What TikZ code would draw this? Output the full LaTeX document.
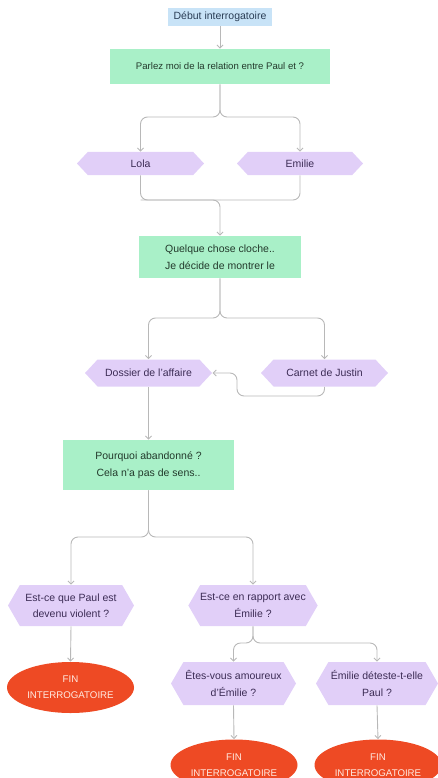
\documentclass[tikz,border=0pt]{standalone}
\usepackage{fontspec}
\setmainfont{Liberation Sans}
\usetikzlibrary{arrows.meta, shapes.geometric, shapes.symbols, positioning}
\definecolor{startblue}{HTML}{C8E3F7}
\definecolor{stepgreen}{HTML}{A9F0C8}
\definecolor{choicepurple}{HTML}{E1CFF8}
\definecolor{endred}{HTML}{EE4A24}
\definecolor{linegray}{HTML}{B8B8B8}
\definecolor{starttext}{HTML}{2A3D55}
\definecolor{steptext}{HTML}{233A2C}
\definecolor{choicetext}{HTML}{3C2C55}
\definecolor{endtext}{HTML}{FFE9E0}
\tikzset{
    %set default line width
    every picture/.style={line width=0.9pt},
    start-box/.style={
        fill=startblue,
        text=starttext,
        minimum width=104pt,
        minimum height=18pt,
        inner sep=0pt,
        font=\fontsize{10.5}{12}\selectfont,
    },
    step-box/.style={
        fill=stepgreen,
        text=steptext,
        inner sep=0pt,
        align=center,
        font=\fontsize{10.5}{16.5}\selectfont,
    },
    choice-hex/.style={
        shape=signal,
        signal to=west and east,
        signal pointer angle=94,
        fill=choicepurple,
        text=choicetext,
        inner sep=0pt,
        align=center,
        font=\fontsize{10.5}{16.5}\selectfont,
    },
    tall-hex/.style={
        choice-hex,
        signal pointer angle=120,
    },
    end-oval/.style={
        ellipse,
        fill=endred,
        text=endtext,
        minimum width=127pt,
        minimum height=51pt,
        inner sep=0pt,
        align=center,
        font=\fontsize{9.7}{16}\selectfont,
    },
    flow/.style={
        draw=linegray,
        rounded corners=7pt,
        -{Straight Barb[length=3pt,width=6pt]},
    },
    flow-line/.style={
        draw=linegray,
        rounded corners=7pt,
    },
}
\begin{document}
\begin{tikzpicture}[x=1pt,y=-1pt]
\useasboundingbox (0,0) rectangle (438,778);

% Start
\node[start-box] (debut) at (220,17) {Début interrogatoire};
% Steps
\node[step-box, minimum width=220pt, minimum height=35pt, font=\fontsize{9.6}{12}\selectfont] (parlez) at (220,66.5) {Parlez moi de la relation entre Paul et ?};
\node[step-box, minimum width=162pt, minimum height=42pt] (cloche) at (220,257) {Quelque chose cloche..\\Je décide de montrer le};
\node[step-box, minimum width=171pt, minimum height=50pt] (pourquoi) at (148.5,465) {Pourquoi abandonné ?\\Cela n'a pas de sens..};
% Choices
\node[choice-hex, minimum width=127pt, minimum height=23pt] (lola) at (140.5,163.5) {Lola};
\node[choice-hex, minimum width=126pt, minimum height=23pt] (emilie) at (300,163.5) {Emilie};
\node[choice-hex, minimum width=127pt, minimum height=27pt] (dossier) at (148.5,373) {Dossier de l'affaire};
\node[choice-hex, minimum width=127pt, minimum height=27pt] (carnet) at (324.5,373) {Carnet de Justin};
\node[tall-hex, minimum width=126pt, minimum height=41pt] (violent) at (71,605.5) {Est-ce que Paul est\\devenu violent ?};
\node[tall-hex, minimum width=126pt, minimum height=41pt] (rapport) at (253,605.5) {Est-ce en rapport avec\\Émilie ?};
\node[tall-hex, minimum width=125pt, minimum height=43pt] (amoureux) at (233.5,683.5) {Êtes-vous amoureux\\d'Émilie ?};
\node[tall-hex, minimum width=122pt, minimum height=43pt] (deteste) at (377,683.5) {Émilie déteste-t-elle\\Paul ?};
% Ends
\node[end-oval] (fin-a) at (70.5,687.5) {FIN\\INTERROGATOIRE};
\node[end-oval] (fin-b) at (234,765) {FIN\\INTERROGATOIRE};
\node[end-oval] (fin-c) at (378,765) {FIN\\INTERROGATOIRE};

% Split and merge points
\coordinate (split-a) at (220,117);
\coordinate (merge-a) at (220,200);
\coordinate (split-b) at (220,318);
\coordinate (back) at (237,396);
\coordinate (split-c) at (148.5,537);
\coordinate (split-d) at (253,643);

% Connectors
\draw[flow] (debut) -- (parlez);
\draw[flow] (parlez.south) -- (split-a) -| (lola.north);
\draw[flow] (parlez.south) -- (split-a) -| (emilie.north);
\draw[flow-line] (lola.south) |- (merge-a);
\draw[flow-line] (emilie.south) |- (merge-a);
\draw[flow] (lola.south |- merge-a) -| (cloche.north);
\draw[flow] (cloche.south) -- (split-b) -| (dossier.north);
\draw[flow] (cloche.south) -- (split-b) -| (carnet.north);
\draw[flow] (carnet.south) |- (back) |- (dossier.east);
\draw[flow] (dossier.south) -- (pourquoi.north);
\draw[flow] (pourquoi.south) -- (split-c) -| (violent.north);
\draw[flow] (pourquoi.south) -- (split-c) -| (rapport.north);
\draw[flow] (violent.south) -- (fin-a.north);
\draw[flow] (rapport.south) -- (split-d) -| (amoureux.north);
\draw[flow] (rapport.south) -- (split-d) -| (deteste.north);
\draw[flow] (amoureux.south) -- (fin-b.north);
\draw[flow] (deteste.south) -- (fin-c.north);
\end{tikzpicture}
\end{document}
